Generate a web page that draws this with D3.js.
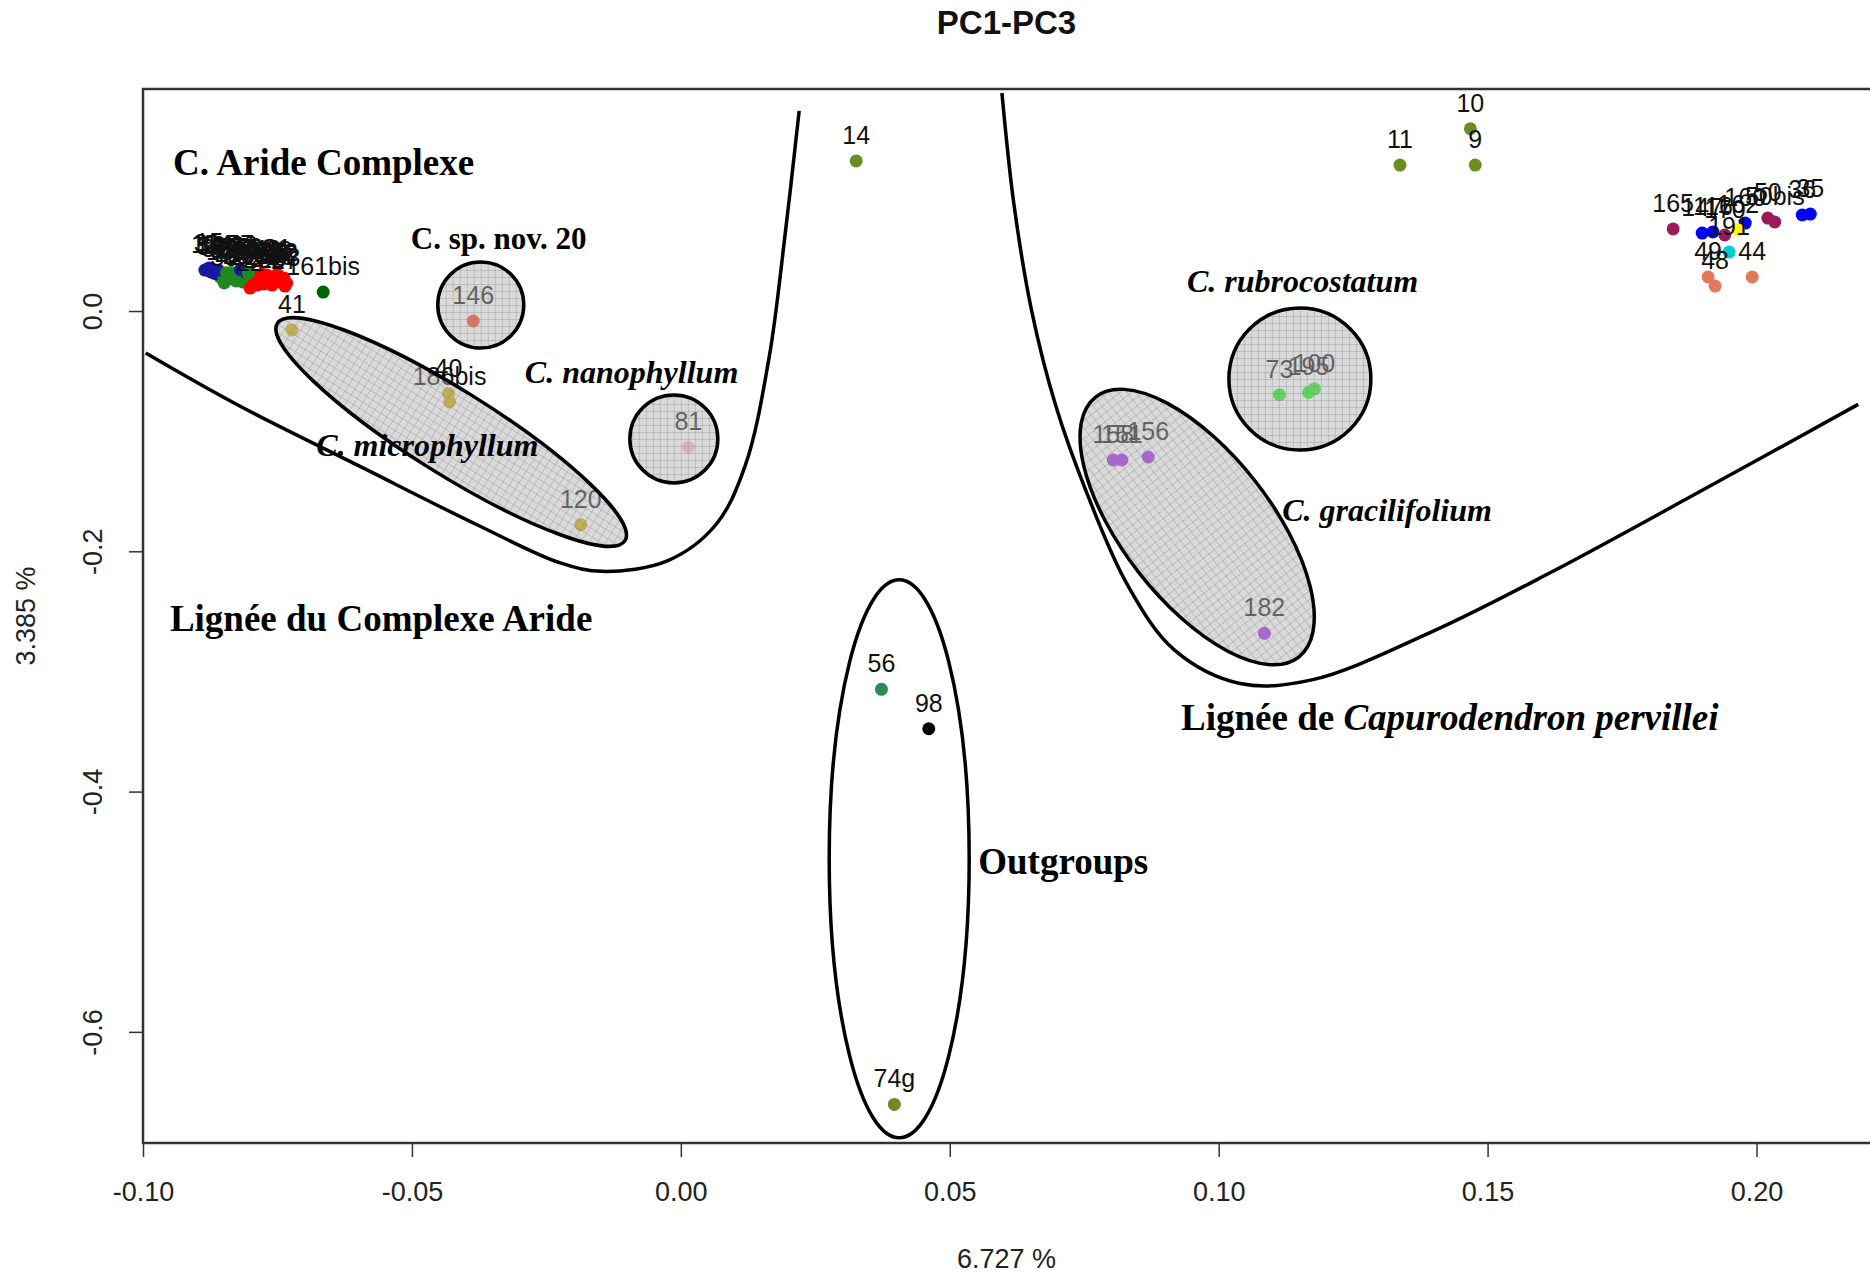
<!DOCTYPE html>
<html>
<head>
<meta charset="utf-8">
<script src="https://cdn.jsdelivr.net/npm/d3@7"></script>
<style>
  body { margin: 0; background: #fff; }
  text { font-family: "Liberation Sans", Arial, sans-serif; }
  .note { font-family: "Liberation Serif", "Times New Roman", serif; font-weight: bold; fill: #000; }
</style>
</head>
<body>
<svg id="chart" width="1870" height="1274"></svg>
<script>
// ---- PCA scores (PC1 vs PC3) ----
const sampleIds = [
  "12","13","15","16","17","18","19","20","21","22","23","24","25","26","27","28","29","30",
  "31","32","33","34","37","38","39","42","43","45","46","47","51","52",
  "53","54","55","57","58","59","60","61","62","63",
  "161bis","41","146","40","186bis","120","81",
  "14","10","9","11",
  "56","98","74g",
  "73","195","100",
  "158","151","156","182",
  "165","147","116","170","160","162","50","50bis","36","35","191","49","48","44"
];
const pc1 = [
  -0.0885,-0.0872,-0.0877,-0.0857,-0.0842,-0.0827,-0.0816,-0.0808,-0.0814,-0.0801,-0.0788,-0.0775,-0.0760,-0.0745,-0.0736,-0.0768,-0.0753,-0.0849,
  -0.0880,-0.0866,-0.0851,-0.0836,-0.0822,-0.0812,-0.0796,-0.0783,-0.0770,-0.0757,-0.0748,-0.0740,-0.0792,-0.0830,
  -0.0874,-0.0860,-0.0845,-0.0819,-0.0804,-0.0779,-0.0764,-0.0750,-0.0738,-0.0733,
  -0.0665,-0.0723,-0.0386,-0.0432,-0.0430,-0.0186,0.0014,
  0.0326,0.1468,0.1477,0.1337,
  0.0373,0.0461,0.0397,
  0.1113,0.1167,0.1178,
  0.0804,0.0820,0.0869,0.1085,
  0.1845,0.1899,0.1919,0.1941,0.1979,0.1966,0.2021,0.2034,0.2085,0.2100,0.1949,0.1910,0.1923,0.1992
];
const pc3 = [
  0.0341,0.0333,0.0358,0.0283,0.0266,0.0250,0.0266,0.0291,0.0241,0.0191,0.0216,0.0225,0.0216,0.0241,0.0208,0.0266,0.0258,0.0233,
  0.0349,0.0312,0.0300,0.0320,0.0305,0.0330,0.0295,0.0280,0.0300,0.0272,0.0290,0.0262,0.0248,0.0286,
  0.0325,0.0340,0.0318,0.0345,0.0315,0.0308,0.0285,0.0306,0.0275,0.0232,
  0.0158,-0.0158,-0.0083,-0.0688,-0.0757,-0.1779,-0.1134,
  0.1249,0.1517,0.1215,0.1215,
  -0.3149,-0.3477,-0.6604,
  -0.0697,-0.0678,-0.0648,
  -0.1240,-0.1240,-0.1215,-0.2683,
  0.0683,0.0649,0.0658,0.0633,0.0732,0.0674,0.0774,0.0741,0.0799,0.0807,0.0491,0.0283,0.0208,0.0283
];
const groupOf = [
  "navy","navy","navy","forest","forest","forest","navy","navy","forest","red","red","red","red","red","red","red","red","forest",
  "navy","navy","forest","forest","forest","navy","red","red","red","red","red","red","red","forest",
  "navy","navy","forest","navy","forest","red","red","red","red","red",
  "darkgreen","gold","tomato","gold","gold","gold","pink",
  "olive","olive","olive","olive",
  "seagreen","black","olive",
  "lime","lime","lime",
  "purple","purple","purple","purple",
  "maroon","blue","blue","maroon","blue","yellow","maroon","maroon","blue","blue","cyan","salmon","salmon","salmon"
];
const groupColors = {
  navy: "#1a1aa0", forest: "#1f8a1f", red: "#ff0000", darkgreen: "#006400",
  gold: "#cdad00", tomato: "#ff3b1f", pink: "#ffb6c1", olive: "#6b8e23",
  seagreen: "#2e8b57", black: "#000000", lime: "#18ee18", purple: "#a020f0",
  maroon: "#9b1b5a", blue: "#0000ff", yellow: "#ffff00", cyan: "#00ced1", salmon: "#e3795a"
};

// ---- axes ----
const xTicks = [-0.10, -0.05, 0.00, 0.05, 0.10, 0.15, 0.20];
const xTickLabels = ["-0.10", "-0.05", "0.00", "0.05", "0.10", "0.15", "0.20"];
const yTicks = [0.0, -0.2, -0.4, -0.6];
const yTickLabels = ["0.0", "-0.2", "-0.4", "-0.6"];
const chartTitle = "PC1-PC3";
const xTitle = "6.727 %";
const yTitle = "3.385 %";

// ---- group outlines (centre in score units, radii in px) ----
const groupOutlines = [
  { cx: -0.0372, cy: 0.0050,  rx: 43,  ry: 43,  angle: 0,  shaded: true },   // C. sp. nov. 20
  { cx: -0.0427, cy: -0.1007, rx: 205, ry: 42,  angle: 32, shaded: true },   // C. microphyllum
  { cx: -0.0013, cy: -0.1065, rx: 44,  ry: 44,  angle: 0,  shaded: true },   // C. nanophyllum
  { cx: 0.1151,  cy: -0.0566, rx: 71,  ry: 71,  angle: 0,  shaded: true },   // C. rubrocostatum
  { cx: 0.0960,  cy: -0.1798, rx: 165, ry: 74,  angle: 52, shaded: true },   // C. gracilifolium
  { cx: 0.0406,  cy: -0.4560, rx: 70,  ry: 279, angle: 0,  shaded: false }   // outgroups
];
const aridLineage = [
  [-0.0995,-0.0350],[-0.0822,-0.0787],[-0.0601,-0.1283],[-0.0379,-0.1779],[-0.0224,-0.2097],
  [-0.0146,-0.2167],[-0.0024,-0.2077],[0.0065,-0.1779],[0.0120,-0.1283],[0.0164,-0.0390],
  [0.0193,0.0603],[0.0220,0.1666]
];
const pervilleiLineage = [
  [0.0597,0.1815],[0.0619,0.0899],[0.0652,0.0008],[0.0697,-0.0787],[0.0752,-0.1482],
  [0.0830,-0.2276],[0.0918,-0.2822],[0.1040,-0.3100],[0.1173,-0.3070],[0.1395,-0.2673],
  [0.1617,-0.2177],[0.1883,-0.1532],[0.2189,-0.0777]
];
const notes = [
  { x: -0.0944, y: 0.1132,  size: 37, parts: [["C. Aride Complexe", false]] },
  { x: -0.0502, y: 0.0516,  size: 31, parts: [["C. sp. nov. 20", false]] },
  { x: -0.0290, y: -0.0599, size: 32, parts: [["C. nanophyllum", true]] },
  { x: -0.0678, y: -0.1207, size: 32, parts: [["C. microphyllum", true]] },
  { x: -0.0950, y: -0.2663, size: 37, parts: [["Lignée du Complexe Aride", false]] },
  { x: 0.0941,  y: 0.0158,  size: 32, parts: [["C. rubrocostatum", true]] },
  { x: 0.1118,  y: -0.1748, size: 32, parts: [["C. gracilifolium", true]] },
  { x: 0.0930,  y: -0.3488, size: 37, parts: [["Lignée de ", false], ["Capurodendron pervillei", true]] },
  { x: 0.0553,  y: -0.4686, size: 37, parts: [["Outgroups", false]] }
];

const svg = d3.select("#chart");
const plotLeft = 143, plotRight = 1870, plotTop = 89, plotBottom = 1143;
const x = d3.scaleLinear().domain([-0.1, 0.2211]).range([plotLeft, plotRight]);
const y = d3.scaleLinear().domain([-0.6925, 0.1848]).range([plotBottom, plotTop]);

// light grey grid fill for the group outlines
const defs = svg.append("defs");
const pat = defs.append("pattern").attr("id", "greyGrid")
  .attr("patternUnits", "userSpaceOnUse").attr("width", 7).attr("height", 7);
pat.append("rect").attr("width", 7).attr("height", 7).attr("fill", "#b2b2b2").attr("fill-opacity", 0.48);
pat.append("path").attr("d", "M0,0.5H7M0.5,0V7").attr("stroke", "#888").attr("stroke-opacity", 0.35).attr("stroke-width", 1);

const idx = d3.range(sampleIds.length);

// points
svg.append("g").selectAll("circle").data(idx).join("circle")
  .attr("cx", i => x(pc1[i])).attr("cy", i => y(pc3[i])).attr("r", 6.5)
  .attr("fill", i => groupColors[groupOf[i]]);

// sample labels above the points
svg.append("g").selectAll("text").data(idx).join("text")
  .attr("x", i => x(pc1[i])).attr("y", i => y(pc3[i]) - 17)
  .attr("text-anchor", "middle").attr("font-size", 25).attr("fill", "#111")
  .text(i => sampleIds[i]);

// group outlines
svg.append("g").selectAll("ellipse").data(groupOutlines).join("ellipse")
  .attr("transform", d => `translate(${x(d.cx)},${y(d.cy)}) rotate(${d.angle})`)
  .attr("rx", d => d.rx).attr("ry", d => d.ry)
  .attr("fill", d => d.shaded ? "url(#greyGrid)" : "none")
  .attr("stroke", "#000").attr("stroke-width", 3.5);

// lineage boundaries
const curve = d3.line().x(d => x(d[0])).y(d => y(d[1])).curve(d3.curveCatmullRom.alpha(0.5));
svg.append("g").selectAll("path").data([aridLineage, pervilleiLineage]).join("path")
  .attr("d", curve).attr("fill", "none").attr("stroke", "#000").attr("stroke-width", 3.5);

// annotations
notes.forEach(n => {
  const t = svg.append("text").attr("class", "note")
    .attr("x", x(n.x)).attr("y", y(n.y)).attr("font-size", n.size);
  n.parts.forEach(([s, it]) => t.append("tspan").attr("font-style", it ? "italic" : "normal").text(s));
});

// frame
svg.append("rect").attr("x", plotLeft).attr("y", plotTop)
  .attr("width", plotRight - plotLeft + 2).attr("height", plotBottom - plotTop)
  .attr("fill", "none").attr("stroke", "#333").attr("stroke-width", 2.5);

// x axis
const gx = svg.append("g").attr("transform", `translate(0,${plotBottom})`)
  .call(d3.axisBottom(x).tickValues(xTicks).tickFormat((d, i) => xTickLabels[i]).tickSize(14).tickPadding(25));
gx.select(".domain").remove();
gx.selectAll("line").attr("stroke", "#333").attr("stroke-width", 1.5);
gx.selectAll("text").attr("font-size", 27).attr("fill", "#222").attr("font-family", "Liberation Sans, Arial, sans-serif");

// y axis
const gy = svg.append("g").attr("transform", `translate(${plotLeft},0)`)
  .call(d3.axisLeft(y).tickValues(yTicks).tickFormat((d, i) => yTickLabels[i]).tickSize(14));
gy.select(".domain").remove();
gy.selectAll("line").attr("stroke", "#333").attr("stroke-width", 1.5);
gy.selectAll("text")
  .attr("x", null).attr("dy", "0.35em").attr("text-anchor", "middle")
  .attr("transform", "translate(-50,0) rotate(-90)")
  .attr("font-size", 27).attr("fill", "#222").attr("font-family", "Liberation Sans, Arial, sans-serif");

// titles
svg.append("text").attr("x", (plotLeft + plotRight) / 2).attr("y", 34).attr("text-anchor", "middle")
  .attr("font-size", 33).attr("font-weight", "bold").attr("fill", "#111").text(chartTitle);
svg.append("text").attr("x", (plotLeft + plotRight) / 2).attr("y", 1268).attr("text-anchor", "middle")
  .attr("font-size", 27).attr("fill", "#222").text(xTitle);
svg.append("text").attr("transform", `translate(26,${(plotTop + plotBottom) / 2}) rotate(-90)`)
  .attr("dy", "0.35em").attr("text-anchor", "middle")
  .attr("font-size", 27).attr("fill", "#222").text(yTitle);
</script>
</body>
</html>
